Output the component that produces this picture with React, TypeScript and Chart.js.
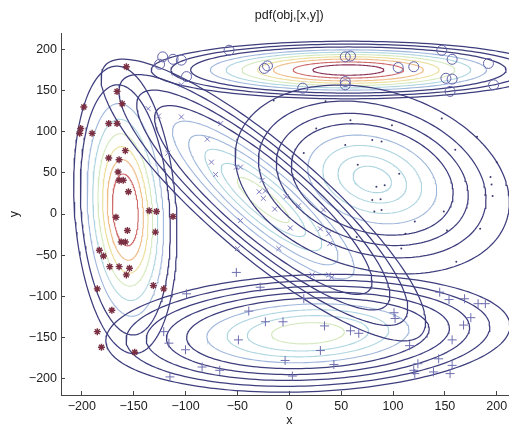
import React, { useEffect, useRef } from "react";
import { Chart, registerables } from "chart.js";

Chart.register(...registerables);

const TITLE = "pdf(obj,[x,y])";
const X_LABEL = "x";
const Y_LABEL = "y";
const X_TICKS = [-200, -150, -100, -50, 0, 50, 100, 150, 200];
const Y_TICKS = [-200, -150, -100, -50, 0, 50, 100, 150, 200];
const X_MIN = -220;
const X_MAX = 220;
const Y_MIN = -220;
const Y_MAX = 220;

// Gaussian components: centre, semi-axes of the outermost contour, orientation (deg)
const CENTER_X = [57, -158, -25, 80, 18];
const CENTER_Y = [175, 5, 17, 42, -145];
const SEMI_MAJOR = [190, 175, 224, 140, 195];
const SEMI_MINOR = [35, 49, 60, 105, 71];
const ANGLE_DEG = [0, 93, -48, -30, 3];

// contour levels (relative size) and level tone (0 = lowest density ... 7 = highest)
const LEVELS = [
  [1, 0.9, 0.8, 0.7, 0.62, 0.54, 0.46, 0.38, 0.28, 0.18],
  [1, 0.87, 0.74, 0.63, 0.53, 0.44, 0.35, 0.25],
  [1, 0.89, 0.78, 0.67, 0.56, 0.46, 0.36, 0.26, 0.16],
  [1, 0.83, 0.7, 0.59, 0.47, 0.36, 0.25, 0.14],
  [1, 0.9, 0.8, 0.7, 0.6, 0.5, 0.4, 0.3, 0.18],
];
const LEVEL_TONES = [
  [0, 0, 0, 1, 2, 3, 4, 5, 6, 7],
  [0, 0, 1, 2, 3, 4, 5, 6],
  [0, 0, 0, 0, 1, 1, 2, 2, 3],
  [0, 0, 0, 0, 1, 2, 2, 2],
  [0, 0, 0, 0, 0, 1, 2, 2, 3],
];
const TONE_COLORS = ["#3e3e7e", "#a0b7dc", "#afd6e0", "#d5e9bf", "#ecdf9c", "#efbe8a", "#cf6a6a", "#8a2f55"];

// observations
const CIRCLES: [number, number][] = [
  [-58, 199], [-122, 191], [-125, 182], [-112, 188], [-104, 187], [-99, 167], [-24, 177], [-21, 180],
  [13, 153], [54, 191], [59, 192], [54, 161], [54, 157], [105, 178], [120, 179], [147, 199],
  [157, 188], [151, 165], [157, 164], [155, 149], [192, 183], [197, 157],
];
const STARS: [number, number][] = [
  [-198, 130], [-201, 104], [-202, 98], [-190, 98], [-166, 149], [-161, 134], [-174, 110], [-166, 110],
  [-174, 68], [-164, 66], [-158, 77], [-165, 51], [-164, 41], [-160, 41], [-155, 27], [-167, -4],
  [-135, 4], [-128, 3], [-112, -3], [-156, -20], [-162, -34], [-158, -34], [-129, -22], [-183, -44],
  [-179, -51], [-173, -64], [-164, -64], [-154, -66], [-157, -74], [-131, -87], [-121, -91], [-185, -91],
  [-171, -117], [-185, -143], [-181, -162], [-149, -168], [-157, 179],
];
const CROSSES: [number, number][] = [
  [-104, 157], [-136, 128], [-126, 119], [-104, 118], [-66, 110], [-79, 91], [-75, 63], [-71, 48],
  [-51, 57], [-47, 57], [-117, 74], [-26, 41], [-29, 27], [-23, 28], [-25, 19], [-14, 6],
  [-3, 21], [9, 10], [-47, -8], [1, -17], [30, -18], [33, 5], [38, -24], [39, -36],
  [-10, -42], [-50, -42], [22, -74], [38, -74], [41, -77],
];
const DOTS: [number, number][] = [
  [-15, 138], [35, 137], [26, 104], [54, 84], [59, 114], [80, 90], [89, 88], [99, 108],
  [147, 116], [181, 94], [160, 78], [200, 63], [66, 60], [106, 49], [84, 33], [92, 35],
  [80, 17], [88, 18], [82, 3], [89, 5], [121, -9], [112, -24], [152, -20], [184, -18],
  [161, -58], [108, -42], [65, -28], [194, 45], [195, 36], [196, 22], [189, 23], [149, 3],
  [14, 74],
];
const PLUSES: [number, number][] = [
  [-51, -71], [-28, -89], [14, -103], [-39, -118], [-23, -131], [-6, -131], [34, -136], [59, -142],
  [67, -145], [101, -120], [102, -127], [116, -160], [145, -95], [154, -104], [169, -103], [182, -109],
  [189, -109], [175, -126], [168, -135], [157, -153], [144, -176], [124, -182], [120, -190], [139, -192],
  [157, -184], [155, -194], [121, -194], [-49, -153], [-4, -178], [30, -166], [43, -183], [3, -197],
  [-67, -190], [-84, -186], [-99, -97], [-116, -157], [-100, -165], [-115, -198], [-121, -143],
];

const FONT = '"Liberation Sans", Arial, Helvetica, sans-serif';

function contourPoints(ci: number, s: number) {
  const n = 180;
  const th = (ANGLE_DEG[ci] * Math.PI) / 180;
  const pts: { x: number; y: number }[] = [];
  for (let i = 0; i <= n; i++) {
    const t = (2 * Math.PI * i) / n;
    const u = s * SEMI_MAJOR[ci] * Math.cos(t);
    const v = s * SEMI_MINOR[ci] * Math.sin(t);
    pts.push({
      x: CENTER_X[ci] + u * Math.cos(th) - v * Math.sin(th),
      y: CENTER_Y[ci] + u * Math.sin(th) + v * Math.cos(th),
    });
  }
  return pts;
}

const toXY = (arr: [number, number][]) => arr.map(([x, y]) => ({ x, y }));
const fmt = (v: number) => (v < 0 ? "\u2212" + Math.abs(v) : String(v));

const textPlugin = {
  id: "textLabels",
  afterDraw(chart: any) {
    const { ctx, chartArea } = chart;
    const cx = (chartArea.left + chartArea.right) / 2;
    const cy = (chartArea.top + chartArea.bottom) / 2;
    ctx.save();
    ctx.fillStyle = "#222";
    ctx.textAlign = "center";
    ctx.textBaseline = "middle";
    ctx.font = `12.5px ${FONT}`;
    ctx.fillText(TITLE, cx, 16);
    ctx.fillText(X_LABEL, cx, 421);
    ctx.translate(15, cy);
    ctx.rotate(-Math.PI / 2);
    ctx.fillText(Y_LABEL, 0, 0);
    ctx.restore();
  },
};

export default function App() {
  const ref = useRef<HTMLCanvasElement | null>(null);

  useEffect(() => {
    if (!ref.current) return;
    const datasets: any[] = [];
    for (let ci = 0; ci < CENTER_X.length; ci++) {
      LEVELS[ci].forEach((s, li) => {
        const tone = LEVEL_TONES[ci][li];
        datasets.push({
          label: `c${ci}-${li}`,
          data: contourPoints(ci, s),
          showLine: true,
          pointRadius: 0,
          borderColor: TONE_COLORS[tone],
          borderWidth: tone === 0 ? 1.25 : 1.1,
          tension: 0,
          fill: false,
          order: tone === 0 ? 1 : 2,
        });
      });
    }
    datasets.push({
      label: "circles",
      data: toXY(CIRCLES),
      pointStyle: "circle",
      pointRadius: 5,
      borderColor: "#6262a8",
      backgroundColor: "rgba(0,0,0,0)",
      pointBorderWidth: 1,
      order: 0,
    });
    datasets.push({
      label: "stars",
      data: toXY(STARS),
      pointStyle: "star",
      pointRadius: 3.5,
      borderColor: "#7a3042",
      backgroundColor: "#7a3042",
      pointBorderWidth: 1.4,
      order: 0,
    });
    datasets.push({
      label: "crosses",
      data: toXY(CROSSES),
      pointStyle: "crossRot",
      pointRadius: 3.5,
      borderColor: "#7c7cc0",
      pointBorderWidth: 1,
      order: 0,
    });
    datasets.push({
      label: "dots",
      data: toXY(DOTS),
      pointStyle: "circle",
      pointRadius: 1,
      borderColor: "#3c3c70",
      backgroundColor: "#3c3c70",
      pointBorderWidth: 0,
      order: 0,
    });
    datasets.push({
      label: "pluses",
      data: toXY(PLUSES),
      pointStyle: "cross",
      pointRadius: 4.5,
      borderColor: "#6e6eb0",
      pointBorderWidth: 1,
      order: 0,
    });

    const tickFont = { family: FONT, size: 12.5 };
    const chart = new Chart(ref.current, {
      type: "scatter",
      data: { datasets },
      options: {
        responsive: false,
        animation: false,
        events: [],
        layout: { padding: { left: 0, top: 33, right: 12.5, bottom: 0 } },
        plugins: { legend: { display: false }, tooltip: { enabled: false }, title: { display: false } },
        scales: {
          x: {
            type: "linear",
            min: X_MIN,
            max: X_MAX,
            afterBuildTicks: (s: any) => {
              s.ticks = X_TICKS.map((v) => ({ value: v }));
            },
            afterFit: (s: any) => {
              s.height = 30;
            },
            ticks: { font: tickFont, color: "#222", padding: 8, maxRotation: 0, autoSkip: false, callback: (v: any) => fmt(Number(v)) },
            grid: { display: true, drawOnChartArea: false, drawTicks: true, tickLength: -4, color: "#444" },
            border: { display: true, color: "#444", width: 1 },
          },
          y: {
            type: "linear",
            min: Y_MIN,
            max: Y_MAX,
            afterBuildTicks: (s: any) => {
              s.ticks = Y_TICKS.map((v) => ({ value: v }));
            },
            afterFit: (s: any) => {
              s.width = 61;
            },
            ticks: { font: tickFont, color: "#222", padding: 8, autoSkip: false, callback: (v: any) => fmt(Number(v)) },
            grid: { display: true, drawOnChartArea: false, drawTicks: true, tickLength: -4, color: "#444" },
            border: { display: true, color: "#444", width: 1 },
          },
        },
      } as any,
      plugins: [textPlugin],
    });
    return () => chart.destroy();
  }, []);

  return (
    <div style={{ position: "fixed", left: 0, top: 0, width: 509, height: 425, overflow: "hidden", background: "#fff" }}>
      <canvas ref={ref} width={530} height={425} style={{ display: "block" }} />
    </div>
  );
}
